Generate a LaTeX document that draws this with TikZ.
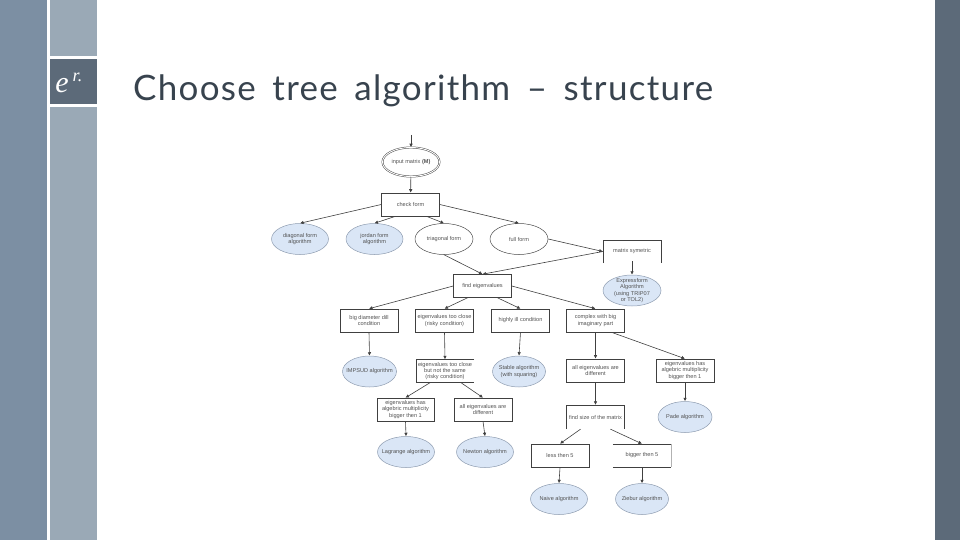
\documentclass[tikz,border=0pt]{standalone}
\usepackage{fontspec}
\setmainfont{Liberation Sans}
\newfontfamily\titlefont[LetterSpace=3.7]{Lato}
\newfontfamily\logofont{Liberation Serif}
\usetikzlibrary{shapes.geometric,arrows.meta}
\definecolor{bandA}{HTML}{7C8FA3}
\definecolor{bandB}{HTML}{9AA9B6}
\definecolor{bandC}{HTML}{5C6A79}
\definecolor{algfill}{HTML}{DAE6F6}
\definecolor{algline}{HTML}{8E9CB0}
\definecolor{titleink}{HTML}{38434E}
\tikzset{
  every node/.style={font=\fontsize{5.6}{6.2}\selectfont, text=black!68, align=center, inner sep=0pt},
  boxnode/.style={rectangle, draw=black!75, line width=0.6pt, minimum width=58pt, minimum height=23pt},
  openbox/.style={rectangle, minimum width=58pt, minimum height=23pt},
  algnode/.style={ellipse, inner sep=-8pt, draw=algline, line width=0.5pt, fill=algfill, minimum width=57pt, minimum height=31pt},
  formnode/.style={ellipse, inner sep=-8pt, draw=black!70, line width=0.5pt, minimum width=58pt, minimum height=31pt},
  flow/.style={draw=black!75, line width=0.6pt, -{Latex[length=3.5pt,width=3.5pt]}},
  edgeline/.style={draw=black!75, line width=0.6pt}
}
\begin{document}
\begin{tikzpicture}[x=1pt,y=-1pt]
\useasboundingbox (0,0) rectangle (960,540);
% side bands
\fill[bandA] (0,0) rectangle (47,540);
\fill[bandB] (50,0) rectangle (97,56);
\fill[bandC] (50,59) rectangle (97,104);
\fill[bandB] (50,107) rectangle (97,540);
\fill[bandC] (935,0) rectangle (960,540);
\node[text=white, font=\logofont\itshape\fontsize{30}{30}\selectfont] (logoe) at (62,86) {e};
\node[text=white, font=\logofont\itshape\fontsize{18}{18}\selectfont] (logor) at (77.5,77) {r.};
\node[anchor=west, text=titleink, font=\titlefont\fontsize{35}{35}\selectfont] (title) at (133,91) {Choose\hspace{0.18em} tree\hspace{0.18em} algorithm\hspace{0.18em} –\hspace{0.18em} structure};
% top of the tree
\coordinate (start) at (411,135);
\node[formnode, double, double distance=0.9pt, minimum width=57pt, minimum height=29pt] (input) at (411,162) {input matrix \textbf{(M)}};
\node[boxnode] (check) at (410.5,204.5) {check form};
\node[algnode] (diagalg) at (300,239) {diagonal form\\algorithm};
\node[algnode] (jordanalg) at (374.5,239) {jordan form\\algorithm};
\node[formnode] (triag) at (444,239) {triagonal form};
\node[formnode] (full) at (519,239) {full form};
\node[openbox] (symm) at (632,251.5) {matrix symetric};
\node[algnode, minimum width=58pt] (expalg) at (632,290.5) {Expressform\\Algorithm\\(using TRIP07\\or TOL2)};
\node[boxnode] (eigen) at (482.5,286) {find eigenvalues};
% second row
\node[boxnode] (diam) at (369,320.5) {big diameter dill\\condition};
\node[boxnode] (close) at (444.5,320.5) {eigenvalues too close\\(risky condition)};
\node[boxnode] (illcond) at (520.5,320.5) {highly ill condition};
\node[boxnode] (complex) at (595.5,320.5) {complex with big\\imaginary part};
% third row
\node[algnode, minimum width=54pt] (impsud) at (369.5,371.5) {IMPSUD algorithm};
\node[openbox] (notsame) at (445,371) {eigenvalues too close\\but not the same\\(risky condition)};
\node[algnode, minimum width=53pt] (stable) at (519,371.5) {Stable algorithm\\(with squaring)};
\node[boxnode] (alldiff) at (595.5,370.5) {all eigenvalues are\\different};
\node[boxnode] (multi) at (685,370.5) {eigenvalues has\\algebric multiplicity\\bigger then 1};
% lower rows
\node[boxnode, minimum width=57pt] (multib) at (405.5,409.5) {eigenvalues has\\algebric multiplicity\\bigger then 1};
\node[boxnode] (alldiffb) at (483,409.5) {all eigenvalues are\\different};
\node[algnode] (lagrange) at (406,452) {Lagrange algorithm};
\node[algnode] (newton) at (485,452) {Newton algorithm};
\node[openbox, minimum height=24pt] (size) at (595.5,417) {find size of the matrix};
\node[algnode, minimum width=54pt] (pade) at (685,417) {Pade algorithm};
\node[boxnode] (less) at (560,455.5) {less then 5};
\node[openbox] (bigger) at (642,455.5) {bigger then 5};
\node[algnode] (naive) at (559,499) {Naive algorithm};
\node[algnode, minimum width=53pt] (ziebur) at (642,499) {Ziebur algorithm};
% boxes that are not closed
\draw[edgeline] (symm.south west) -- (symm.north west) -- (symm.north east) -- (symm.south east);
\draw[edgeline] (notsame.north east) -- (notsame.north west) -- (notsame.south west) -- (notsame.south east);
\draw[edgeline] (size.south west) -- (size.north west) -- (size.north east) -- (size.south east);
\draw[edgeline] (bigger.north west) -- (bigger.north east);
\draw[edgeline] (bigger.south west) -- (bigger.south east);
\draw[draw=black!30, line width=0.5pt] (bigger.north east) -- (bigger.south east);
% connectors
\draw[flow] (start) -- (input);
\draw[flow] (input) -- (check);
\draw[flow] (check.west) -- (diagalg.north);
\draw[flow] ([xshift=-15pt]check.south) -- (jordanalg.north);
\draw[flow] ([xshift=16pt]check.south) -- (triag.north);
\draw[flow] (check.east) -- (full.north);
\draw[flow] (triag.south) -- (eigen.north);
\draw[flow] (full.east) -- (symm.west);
\draw[flow] (symm.west) -- (eigen.north);
\draw[flow] ([yshift=2pt]symm.south) -- (expalg.north);
\draw[flow] (eigen.west) -- (diam.north);
\draw[flow] ([xshift=-15pt]eigen.south) -- (close.north);
\draw[flow] ([xshift=15pt]eigen.south) -- (illcond.north);
\draw[flow] (eigen.east) -- (complex.north);
\draw[flow] (diam.south) -- (impsud.north);
\draw[flow] (close.south) -- (notsame.north);
\draw[flow] (illcond.south) -- (stable.north);
\draw[flow] (complex.south) -- (alldiff.north);
\draw[flow] ([xshift=16pt]complex.south) -- (multi.north);
\draw[flow] ([xshift=-15pt]notsame.south) -- (multib.north);
\draw[flow] ([xshift=16pt]notsame.south) -- (alldiffb.north);
\draw[flow] (multib.south) -- (lagrange.north);
\draw[flow] (alldiffb.south) -- (newton.north);
\draw[flow] (alldiff.south) -- (size.north);
\draw[flow] (multi.south) -- (pade.north);
\draw[flow] ([xshift=-15pt]size.south) -- (less.north);
\draw[flow] ([xshift=15pt]size.south) -- (bigger.north);
\draw[flow] (less.south) -- (naive.north);
\draw[flow] (bigger.south) -- (ziebur.north);
\end{tikzpicture}
\end{document}
